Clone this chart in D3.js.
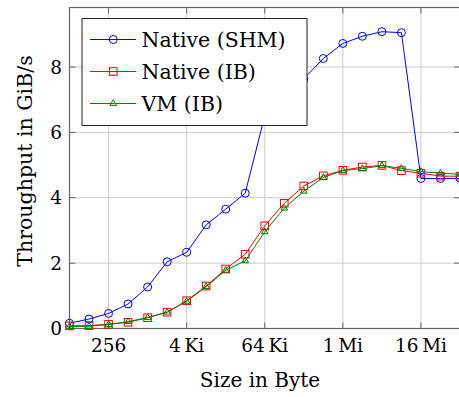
<!DOCTYPE html>
<html>
<head>
<meta charset="utf-8">
<script src="https://cdn.jsdelivr.net/npm/d3@7"></script>
<style>
  body { margin: 0; background: #fff; }
  svg { display: block; }
  text { font-family: "DejaVu Serif", serif; fill: #000; }
</style>
</head>
<body>
<svg id="chart" width="459" height="397"></svg>
<script>
// message sizes in byte (2^6 .. 2^26)
var sizes = [64, 128, 256, 512, 1024, 2048, 4096, 8192, 16384, 32768, 65536, 131072,
    262144, 524288, 1048576, 2097152, 4194304, 8388608, 16777216, 33554432, 67108864];

var shm = [0.16, 0.29, 0.46, 0.75, 1.27, 2.04, 2.33, 3.17, 3.65, 4.14, 6.51, 7.1,
    7.64, 8.26, 8.72, 8.94, 9.08, 9.05, 4.59, 4.59, 4.59];
var nativeIB = [0.08, 0.09, 0.13, 0.19, 0.33, 0.50, 0.85, 1.30, 1.82, 2.27, 3.14, 3.83,
    4.36, 4.67, 4.84, 4.94, 4.99, 4.83, 4.75, 4.66, 4.66];
var vmIB = [0.06, 0.07, 0.12, 0.21, 0.33, 0.50, 0.83, 1.28, 1.78, 2.07, 2.96, 3.68,
    4.20, 4.62, 4.83, 4.89, 4.98, 4.90, 4.80, 4.75, 4.72];

var xTicks = [256, 4096, 65536, 1048576, 16777216];
var xTickLabels = ["256", "4\u2009Ki", "64\u2009Ki", "1\u2009Mi", "16\u2009Mi"];
var yTicks = [0, 2, 4, 6, 8];

var series = [
    { name: "Native (SHM)", values: shm, color: "#0000ff", mark: "circle" },
    { name: "Native (IB)", values: nativeIB, color: "#ff0000", mark: "square" },
    { name: "VM (IB)", values: vmIB, color: "#008000", mark: "triangle" }
];

var plot = { left: 69.5, right: 460, top: 7.5, bottom: 328.5 };

var svg = d3.select("#chart");

var x = d3.scaleLog().base(2)
    .domain([64, 67108864])
    .range([plot.left, plot.right]);

var y = d3.scaleLinear()
    .domain([0, 9.82])
    .range([plot.bottom, plot.top]);

// grid
svg.append("g")
    .selectAll("line")
    .data(xTicks)
    .enter().append("line")
    .attr("x1", d => x(d)).attr("x2", d => x(d))
    .attr("y1", plot.top).attr("y2", plot.bottom)
    .attr("stroke", "#cccccc").attr("stroke-width", 1);

svg.append("g")
    .selectAll("line")
    .data(yTicks)
    .enter().append("line")
    .attr("x1", plot.left).attr("x2", plot.right)
    .attr("y1", d => y(d)).attr("y2", d => y(d))
    .attr("stroke", "#cccccc").attr("stroke-width", 1);

// tick marks on both sides, pointing inwards
var tickLen = 6;
var ticks = svg.append("g").attr("stroke", "#666").attr("stroke-width", 1);
xTicks.forEach(function (d) {
    ticks.append("line").attr("x1", x(d)).attr("x2", x(d)).attr("y1", plot.bottom).attr("y2", plot.bottom - tickLen);
    ticks.append("line").attr("x1", x(d)).attr("x2", x(d)).attr("y1", plot.top).attr("y2", plot.top + tickLen);
});
yTicks.forEach(function (d) {
    ticks.append("line").attr("x1", plot.left).attr("x2", plot.left + tickLen).attr("y1", y(d)).attr("y2", y(d));
    ticks.append("line").attr("x1", plot.right).attr("x2", plot.right - tickLen).attr("y1", y(d)).attr("y2", y(d));
});

// frame
svg.append("rect")
    .attr("x", plot.left).attr("y", plot.top)
    .attr("width", plot.right - plot.left).attr("height", plot.bottom - plot.top)
    .attr("fill", "none").attr("stroke", "#666").attr("stroke-width", 1.2);

// tick labels
svg.append("g")
    .selectAll("text")
    .data(xTicks)
    .enter().append("text")
    .attr("x", d => x(d))
    .attr("y", 352)
    .attr("text-anchor", "middle")
    .attr("font-size", 18.5)
    .text((d, i) => xTickLabels[i]);

svg.append("g")
    .selectAll("text")
    .data(yTicks)
    .enter().append("text")
    .attr("x", 62)
    .attr("y", d => y(d))
    .attr("dy", "0.36em")
    .attr("text-anchor", "end")
    .attr("font-size", 18.5)
    .text(d => d);

// axis labels
svg.append("text")
    .attr("x", 260).attr("y", 387)
    .attr("text-anchor", "middle")
    .attr("font-size", 20)
    .text("Size in Byte");

svg.append("text")
    .attr("transform", "translate(32,161) rotate(-90)")
    .attr("text-anchor", "middle")
    .attr("font-size", 20.5)
    .text("Throughput in GiB/s");

function drawMark(g, kind, cx, cy, color) {
    if (kind === "circle") {
        g.append("circle").attr("cx", cx).attr("cy", cy).attr("r", 4)
            .attr("fill", "none").attr("stroke", color).attr("stroke-width", 1);
    } else if (kind === "square") {
        g.append("rect").attr("x", cx - 3.8).attr("y", cy - 3.8)
            .attr("width", 7.6).attr("height", 7.6)
            .attr("fill", "none").attr("stroke", color).attr("stroke-width", 1);
    } else {
        var r = 3.8;
        var pts = [[cx, cy - r], [cx - 0.866 * r, cy + 0.5 * r], [cx + 0.866 * r, cy + 0.5 * r]];
        g.append("path").attr("d", "M" + pts.join("L") + "Z")
            .attr("fill", "none").attr("stroke", color).attr("stroke-width", 1);
    }
}

var line = d3.line()
    .x(d => x(d[0]))
    .y(d => y(d[1]));

series.forEach(function (s) {
    var pts = sizes.map((d, i) => [d, s.values[i]]);
    var g = svg.append("g");
    g.append("path")
        .attr("d", line(pts))
        .attr("fill", "none")
        .attr("stroke", s.color)
        .attr("stroke-width", 1);
    pts.forEach(function (p) { drawMark(g, s.mark, x(p[0]), y(p[1]), s.color); });
});

// legend
var legend = svg.append("g");
legend.append("rect")
    .attr("x", 82).attr("y", 18.5)
    .attr("width", 225).attr("height", 107)
    .attr("fill", "#fff").attr("stroke", "#222").attr("stroke-width", 1);

series.forEach(function (s, i) {
    var ly = 39.5 + i * 32;
    legend.append("line")
        .attr("x1", 90).attr("x2", 136)
        .attr("y1", ly).attr("y2", ly)
        .attr("stroke", s.color).attr("stroke-width", 1);
    drawMark(legend, s.mark, 113.3, ly, s.color);
    legend.append("text")
        .attr("x", 141.5).attr("y", ly)
        .attr("dy", "0.36em")
        .attr("font-size", 20.5)
        .text(s.name);
});
</script>
</body>
</html>
